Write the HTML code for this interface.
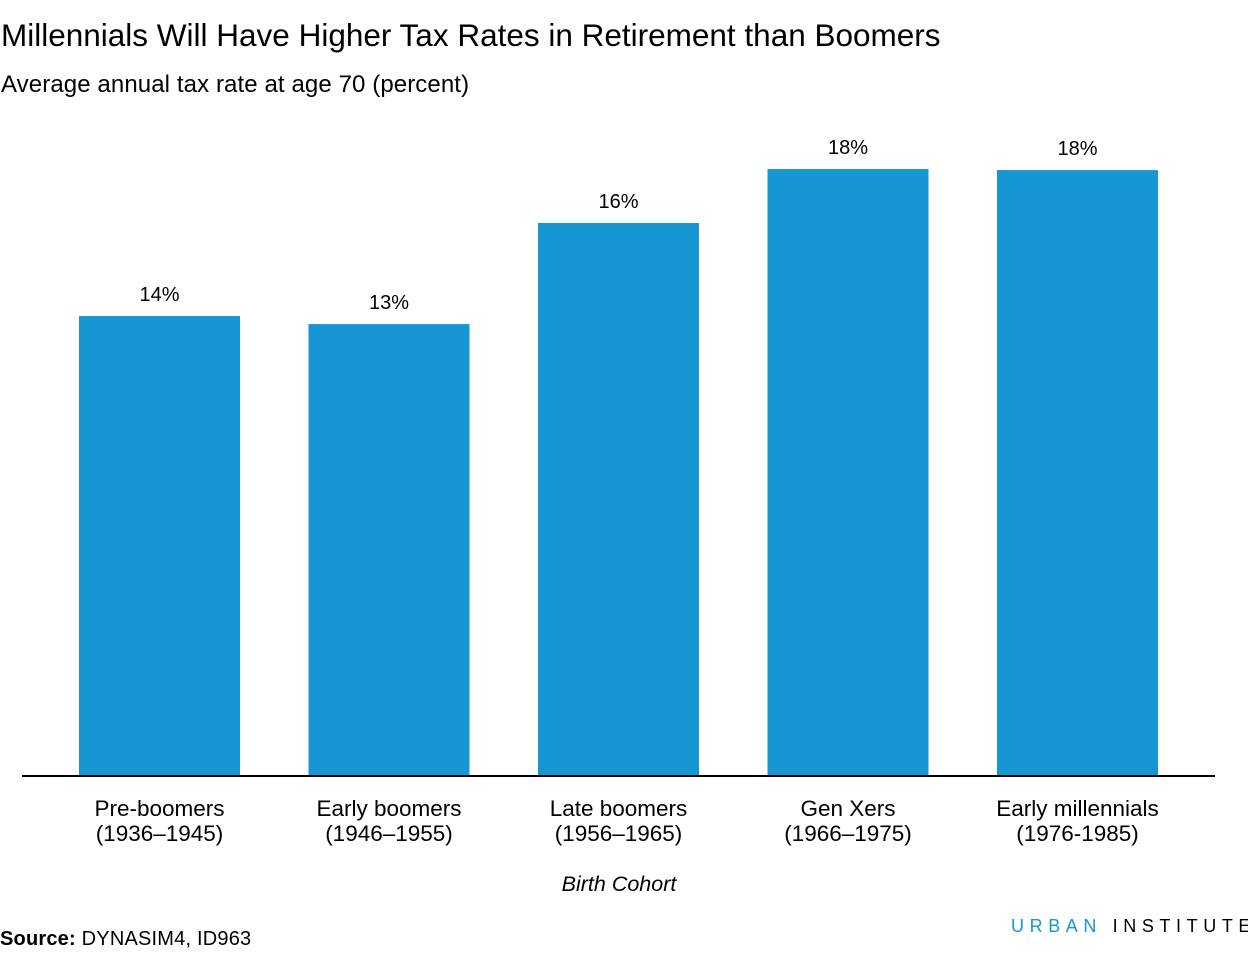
<!DOCTYPE html>
<html><head><meta charset="utf-8"><style>
body{margin:0;width:1248px;height:960px;background:#fff;font-family:"Liberation Sans",sans-serif;overflow:hidden;position:relative;color:#000}
.t{position:absolute;white-space:nowrap}
</style></head><body>
<div class="t" style="left:1px;top:17px;font-size:31.5px;letter-spacing:0px">Millennials Will Have Higher Tax Rates in Retirement than Boomers</div>
<div class="t" style="left:1px;top:71px;font-size:24px;letter-spacing:0.1px">Average annual tax rate at age 70 (percent)</div>
<svg id="chart" width="1248" height="960" style="position:absolute;left:0;top:0"></svg>
<div class="t" style="left:0;top:928px;font-size:20px;letter-spacing:0.2px"><b>Source:</b> DYNASIM4, ID963</div>
<div class="t" style="left:1011px;top:916px;font-size:18px;letter-spacing:5.6px"><span style="color:#1696d2">URBAN</span> INSTITUTE</div>
<script>
const categories=["Pre-boomers","Early boomers","Late boomers","Gen Xers","Early millennials"];
const years=["(1936\u20131945)","(1946\u20131955)","(1956\u20131965)","(1966\u20131975)","(1976-1985)"];
const values=[13.65,13.41,16.41,18.01,17.98];
const valueLabels=["14%","13%","16%","18%","18%"];
const svg=document.getElementById('chart');
const NS='http://www.w3.org/2000/svg';
const base=776,pxPer=33.7,x0=79,step=229.5,bw=161;
const y=v=>base-v*pxPer;
const x=i=>x0+i*step;
function mk(t,a){const e=document.createElementNS(NS,t);for(const k in a)e.setAttribute(k,a[k]);svg.appendChild(e);return e;}
values.forEach((v,i)=>{
 const r=mk('rect',{x:x(i),y:y(v),width:bw,height:base-y(v),fill:'#1696d2'});
 
 
 const l=mk('text',{x:x(i)+bw/2,y:y(v)-15,'text-anchor':'middle','font-size':20,'font-family':'Liberation Sans, sans-serif'});
 l.textContent=valueLabels[i];
 
 
 const c=mk('text',{x:x(i)+bw/2,y:816,'text-anchor':'middle','font-size':22.5,'font-family':'Liberation Sans, sans-serif'});
 c.textContent=categories[i];
 
 
 const c2=mk('text',{x:x(i)+bw/2,y:841,'text-anchor':'middle','font-size':22.5,'font-family':'Liberation Sans, sans-serif'});
 c2.textContent=years[i];
 
 
});
const ax=mk('line',{x1:22,x2:1215,y1:base,y2:base,stroke:'#000','stroke-width':2});


const at=mk('text',{x:619,y:891,'text-anchor':'middle','font-size':21.5,'font-style':'italic','font-family':'Liberation Sans, sans-serif'});
at.textContent='Birth Cohort';


</script>
</body></html>
